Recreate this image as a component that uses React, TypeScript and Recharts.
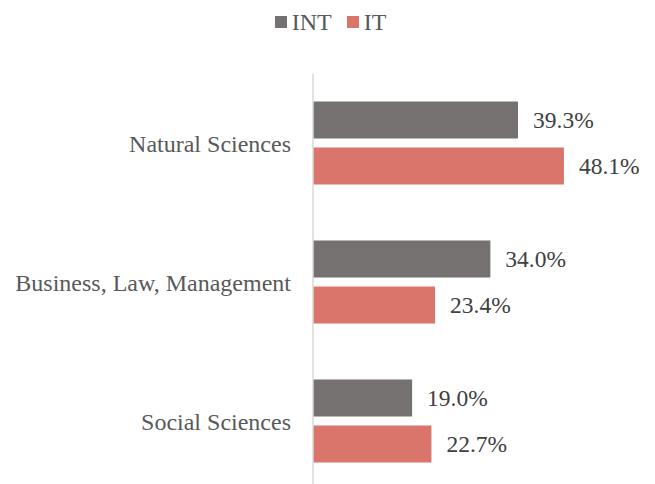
import { BarChart, Bar, XAxis, YAxis, LabelList } from "recharts";

const categories = ["Natural Sciences", "Business, Law, Management", "Social Sciences"];
const intValues = [39.3, 34.0, 19.0];
const itValues = [48.1, 23.4, 22.7];
const seriesNames = ["INT", "IT"];

const INT_COLOR = "#767171";
const IT_COLOR = "#D9756B";
const FONT = "Liberation Serif";

const data = categories.map((name, i) => ({
  name,
  INT: intValues[i],
  IT: itValues[i],
}));

const pct = (v: number) => `${v.toFixed(1)}%`;

function LegendRow() {
  const colors = [INT_COLOR, IT_COLOR];
  return (
    <div
      style={{
        position: "absolute",
        top: 10,
        left: 3,
        width: 655,
        height: 24,
        display: "flex",
        justifyContent: "center",
        alignItems: "center",
        fontFamily: FONT,
        fontSize: 24,
        color: "#595959",
      }}
    >
      {seriesNames.map((s, i) => (
        <div
          key={s}
          style={{ display: "flex", alignItems: "center", marginLeft: i ? 15 : 0 }}
        >
          <span
            style={{ width: 12, height: 12, background: colors[i], marginRight: 5 }}
          />
          <span style={{ lineHeight: "24px" }}>{s}</span>
        </div>
      ))}
    </div>
  );
}

export default function App() {
  return (
    <div
      style={{
        position: "fixed",
        top: 0,
        left: 0,
        width: 655,
        height: 484,
        overflow: "hidden",
        background: "#fff",
        fontFamily: FONT,
      }}
    >
      <LegendRow />
      <BarChart
        width={655}
        height={500}
        data={data}
        layout="vertical"
        margin={{ top: 73.5, right: 29, bottom: 9.5, left: 0 }}
        barSize={37}
        barGap={9}
        style={{ fontFamily: FONT }}
      >
        <XAxis type="number" domain={[0, 60]} hide />
        <YAxis
          type="category"
          dataKey="name"
          width={313}
          axisLine={{ stroke: "#D9D9D9", strokeWidth: 1.5 }}
          tickLine={false}
          tickSize={0}
          tickMargin={22}
          tick={{ fill: "#595959", fontSize: 24, fontFamily: FONT }}
        />
        <Bar dataKey="INT" fill={INT_COLOR} isAnimationActive={false}>
          <LabelList
            dataKey="INT"
            position="right"
            offset={15}
            formatter={(v: any) => pct(Number(v))}
            fill="#404040"
            fontSize={23.5}
            fontFamily={FONT}
          />
        </Bar>
        <Bar dataKey="IT" fill={IT_COLOR} isAnimationActive={false}>
          <LabelList
            dataKey="IT"
            position="right"
            offset={15}
            formatter={(v: any) => pct(Number(v))}
            fill="#404040"
            fontSize={23.5}
            fontFamily={FONT}
          />
        </Bar>
      </BarChart>
    </div>
  );
}
